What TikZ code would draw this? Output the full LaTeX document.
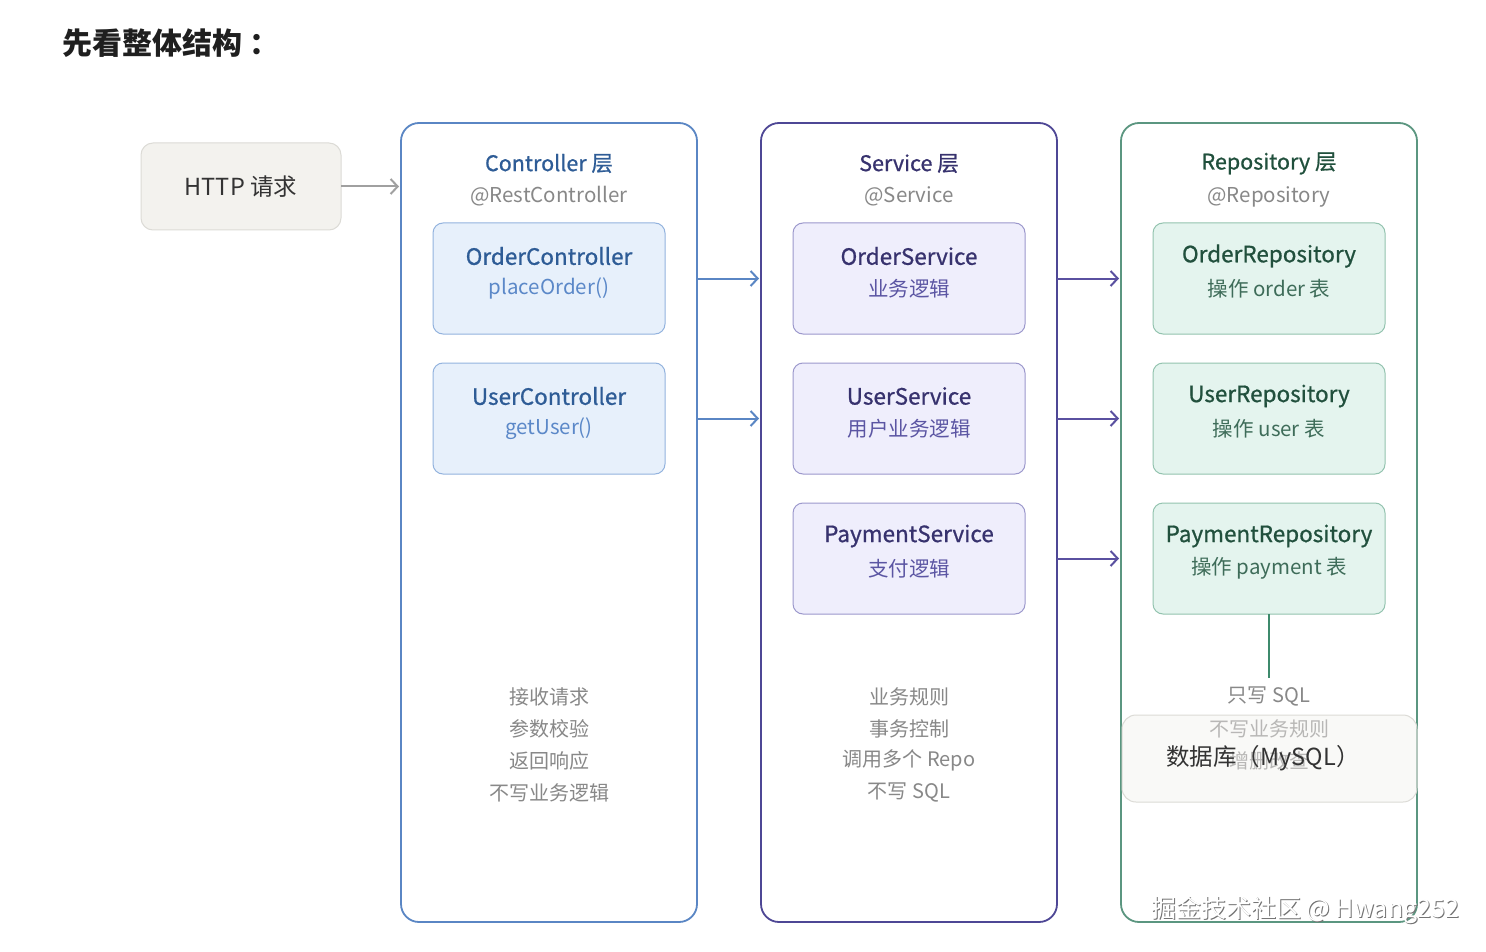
\documentclass[tikz,border=0pt]{standalone}
\usepackage{fontspec}
\setmainfont{Noto Sans CJK SC}
\newfontfamily\medf[FakeBold=0.8]{Noto Sans CJK SC}
\usetikzlibrary{arrows.meta}
\definecolor{ctrlB}{HTML}{5A86C4}
\definecolor{ctrlT}{HTML}{2E5C96}
\definecolor{ctrlF}{HTML}{E7F0FB}
\definecolor{ctrlBB}{HTML}{93B3DE}
\definecolor{ctrlS}{HTML}{5B88C8}
\definecolor{svcB}{HTML}{4E4795}
\definecolor{svcT}{HTML}{37326E}
\definecolor{svcF}{HTML}{EFEEFC}
\definecolor{svcBB}{HTML}{9C98CC}
\definecolor{svcS}{HTML}{5B55A3}
\definecolor{svcA}{HTML}{5A50A0}
\definecolor{repB}{HTML}{5B9680}
\definecolor{repT}{HTML}{21503D}
\definecolor{repF}{HTML}{E4F4EE}
\definecolor{repBB}{HTML}{93C3AF}
\definecolor{repS}{HTML}{3E6C59}
\definecolor{repL}{HTML}{3E8A6C}
\definecolor{grayT}{HTML}{888888}
\definecolor{neuF}{HTML}{F3F2EE}
\definecolor{neuB}{HTML}{DCDBD6}
\definecolor{darkT}{HTML}{333333}
\tikzset{
  container/.style={draw=#1, line width=1.8pt, rounded corners=18pt, minimum width=296pt, minimum height=799pt},
  inner/.style n args={2}{draw=#1, fill=#2, line width=1pt, rounded corners=10pt, minimum width=232pt, minimum height=111pt},
  ltitle/.style={font=\medf\fontsize{21.5}{25}\selectfont, text=#1},
  lsub/.style={font=\fontsize{20.5}{24}\selectfont, text=grayT},
  btitle/.style={font=\medf\fontsize{22.5}{26}\selectfont, text=#1},
  bsub/.style={font=\fontsize{20.5}{24}\selectfont, text=#1},
  note/.style={font=\fontsize{20}{24}\selectfont, text=grayT},
  flow/.style={draw=#1, line width=2pt, -{Straight Barb[length=7pt,width=15pt,line width=2pt]}, shorten >=2pt},
  wm/.style={font=\fontsize{25}{29}\selectfont}
}
\begin{document}
\begin{tikzpicture}[x=1pt,y=-1pt, every node/.style={inner sep=0pt, outer sep=0pt}]
\useasboundingbox[fill=white] (0,0) rectangle (1486,952);

\node[anchor=west, font=\bfseries\fontsize{30}{34}\selectfont, text=black!88] (title) at (62,43) {先看整体结构\hspace{8pt}：};

% HTTP box
\node[draw=neuB, fill=neuF, line width=1pt, rounded corners=12pt, minimum width=200pt, minimum height=87pt,
      font=\fontsize{23.5}{27}\selectfont, text=darkT] (http) at (241,186.5) {HTTP 请求};

% containers
\node[container=ctrlB] (ctrl) at (549,522.5) {};
\node[container=svcB] (svc) at (909,522.5) {};
\node[container=repB] (rep) at (1269,522.5) {};

% controller
\node[ltitle=ctrlT] (ctrlTitle) at (549,163.5) {Controller 层};
\node[lsub] (ctrlSub) at (549,196.5) {@RestController};
\node[inner={ctrlBB}{ctrlF}] (oc) at (549,278.5) {};
\node[btitle=ctrlT] (ocT) at (549,256) {OrderController};
\node[bsub=ctrlS] (ocS) at (549,288.5) {placeOrder()};
\node[inner={ctrlBB}{ctrlF}] (uc) at (549,418.5) {};
\node[btitle=ctrlT] (ucT) at (549,396) {UserController};
\node[bsub=ctrlS] (ucS) at (549,428.5) {getUser()};
\node[note] (cn1) at (549,696.5) {接收请求};
\node[note] (cn2) at (549,728.5) {参数校验};
\node[note] (cn3) at (549,760.5) {返回响应};
\node[note] (cn4) at (549,792.5) {不写业务逻辑};

% service
\node[ltitle=svcT] (svcTitle) at (909,163.5) {Service 层};
\node[lsub] (svcSub) at (909,196.5) {@Service};
\node[inner={svcBB}{svcF}] (os) at (909,278.5) {};
\node[btitle=svcT] (osT) at (909,256) {OrderService};
\node[bsub=svcS] (osS) at (909,288.5) {业务逻辑};
\node[inner={svcBB}{svcF}] (us) at (909,418.5) {};
\node[btitle=svcT] (usT) at (909,396) {UserService};
\node[bsub=svcS] (usS) at (909,428.5) {用户业务逻辑};
\node[inner={svcBB}{svcF}] (ps) at (909,558.5) {};
\node[btitle=svcT] (psT) at (909,536) {PaymentService};
\node[bsub=svcS] (psS) at (909,568.5) {支付逻辑};
\node[note] (sn1) at (909,696.5) {业务规则};
\node[note] (sn2) at (909,728.5) {事务控制};
\node[note] (sn3) at (909,760.5) {调用多个 Repo};
\node[note] (sn4) at (909,792.5) {不写 SQL};

% repository
\node[ltitle=repT] (repTitle) at (1269,163.5) {Repository 层};
\node[lsub] (repSub) at (1269,196.5) {@Repository};
\node[inner={repBB}{repF}] (or) at (1269,278.5) {};
\node[btitle=repT] (orT) at (1269,256) {OrderRepository};
\node[bsub=repS] (orS) at (1269,288.5) {操作 order 表};
\node[inner={repBB}{repF}] (ur) at (1269,418.5) {};
\node[btitle=repT] (urT) at (1269,396) {UserRepository};
\node[bsub=repS] (urS) at (1269,428.5) {操作 user 表};
\node[inner={repBB}{repF}] (pr) at (1269,558.5) {};
\node[btitle=repT] (prT) at (1269,536) {PaymentRepository};
\node[bsub=repS] (prS) at (1269,568.5) {操作 payment 表};
\coordinate (lineEnd) at (1269,678);
\draw[draw=repL, line width=2.5pt] (pr.south) -- (lineEnd);
\node[note] (rn1) at (1269,696.5) {只写 SQL};
\node[note] (rn2) at (1269,728.5) {不写业务规则};
\node[note] (rn3) at (1269,760.5) {增删改查};

% database box overlapping
\node[draw=neuB, fill=neuF, fill opacity=0.45, draw opacity=1, line width=1pt, rounded corners=14pt,
      minimum width=295pt, minimum height=87pt] (db) at (1269.5,758.5) {};
\node[font=\fontsize{23.5}{27}\selectfont, text=darkT] (dbT) at (1263,758.5) {数据库（MySQL）};

% arrows
\draw[flow=grayT!80] (http.east) -- (ctrl.west |- http.east);
\draw[flow=ctrlB] (ctrl.east |- oc.east) -- (svc.west |- oc.east);
\draw[flow=ctrlB] (ctrl.east |- uc.east) -- (svc.west |- uc.east);
\draw[flow=svcA] (svc.east |- os.east) -- (rep.west |- os.east);
\draw[flow=svcA] (svc.east |- us.east) -- (rep.west |- us.east);
\draw[flow=svcA] (svc.east |- ps.east) -- (rep.west |- ps.east);

% watermark
\node[wm, text=black!55] (wmS) at (1306,911) {掘金技术社区 @ Hwang252};
\node[wm, text=white] (wmT) at (1305,910) {掘金技术社区 @ Hwang252};
\end{tikzpicture}
\end{document}
